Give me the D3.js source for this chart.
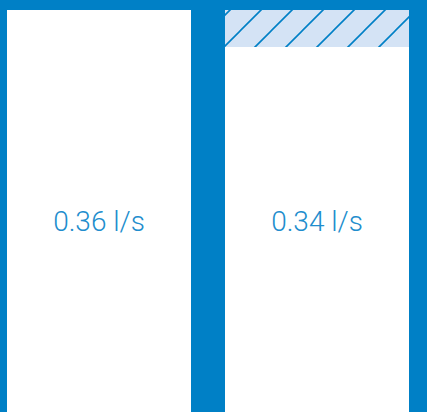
<!DOCTYPE html>
<html>
<head>
<meta charset="utf-8">
<script src="https://cdn.jsdelivr.net/npm/d3@7"></script>
<style>
  html, body { margin: 0; padding: 0; background: #0080c6; overflow: hidden; }
  svg { display: block; }
</style>
</head>
<body>
<div id="chart"></div>
<script>
// flow rates
const categories = ["before", "after"];
const flowValues = [0.36, 0.34];
const flowLabels = ["0.36 l/s", "0.34 l/s"];

const W = 427, H = 412;
const blue = "#0080c6";

const svg = d3.select("#chart").append("svg")
  .attr("width", W).attr("height", H);

svg.append("rect").attr("width", W).attr("height", H).attr("fill", blue);

// hatch for the gap up to the highest value
const defs = svg.append("defs");
const pat = defs.append("pattern")
  .attr("id", "hatch")
  .attr("patternUnits", "userSpaceOnUse")
  .attr("x", 23).attr("y", 0)
  .attr("width", 31).attr("height", 31);
pat.append("rect").attr("width", 31).attr("height", 31).attr("fill", "#d4e3f5");
pat.append("path")
  .attr("d", "M0,31L31,0M-2,2L2,-2M29,33L33,29")
  .attr("stroke", blue).attr("stroke-width", 1.6);

const x = d3.scaleBand()
  .domain(categories)
  .range([7, 409])
  .paddingInner(34 / 218)
  .paddingOuter(0);

// baseline sits below the visible area
const y = d3.scaleLinear()
  .domain([0, d3.max(flowValues)])
  .range([676, 10]);

const maxV = d3.max(flowValues);

const g = svg.append("g");

g.selectAll(".bar")
  .data(categories)
  .join("rect")
  .attr("class", "bar")
  .attr("x", d => x(d))
  .attr("width", x.bandwidth())
  .attr("y", (d, i) => y(flowValues[i]))
  .attr("height", (d, i) => y(0) - y(flowValues[i]))
  .attr("fill", "#fff");

g.selectAll(".gap")
  .data(categories.filter((d, i) => flowValues[i] < maxV))
  .join("rect")
  .attr("class", "gap")
  .attr("x", d => x(d))
  .attr("width", x.bandwidth())
  .attr("y", y(maxV))
  .attr("height", d => y(flowValues[categories.indexOf(d)]) - y(maxV))
  .attr("fill", "url(#hatch)");

g.selectAll(".label")
  .data(categories)
  .join("text")
  .attr("class", "label")
  .attr("x", d => x(d) + x.bandwidth() / 2)
  .attr("y", 231)
  .attr("text-anchor", "middle")
  .attr("font-family", "Roboto, sans-serif")
  .attr("font-weight", 300)
  .attr("font-size", "28px")
  .attr("fill", "#218dcd")
  .text((d, i) => flowLabels[i]);
</script>
</body>
</html>
